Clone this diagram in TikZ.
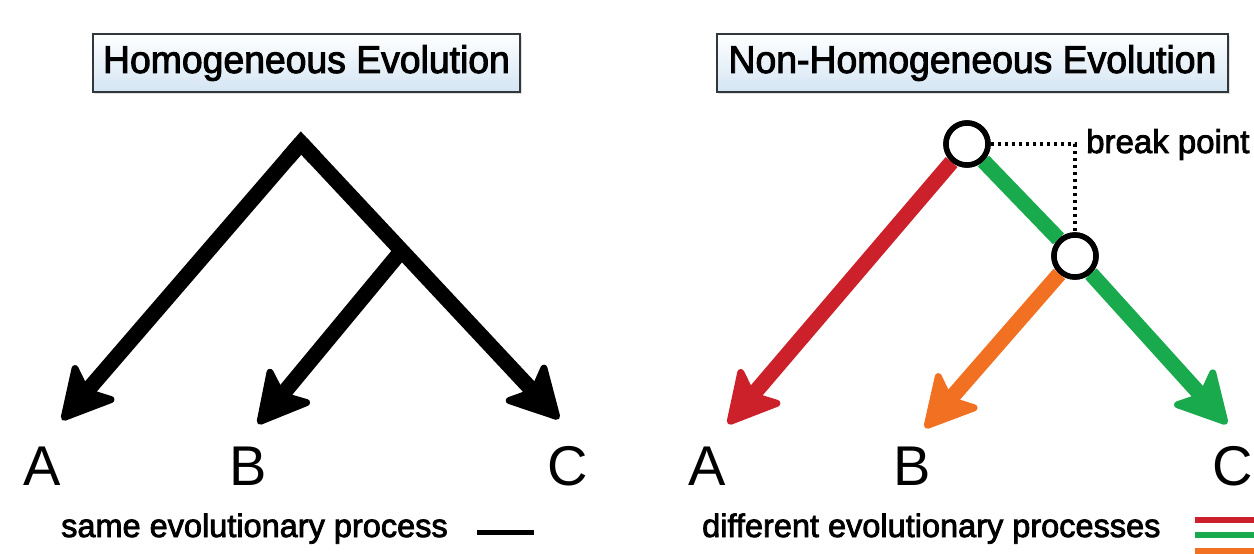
\documentclass[tikz,border=0pt]{standalone}
\usepackage{fontspec}
\setmainfont{Liberation Sans}
\newfontfamily\titlefont[FakeStretch=0.97,FakeBold=2.5]{Liberation Sans}
\newfontfamily\labelfont[FakeBold=2.5]{Liberation Sans}
\usetikzlibrary{arrows.meta,calc,shadows,shadings}
\definecolor{cred}{RGB}{204,32,42}
\definecolor{cgreen}{RGB}{25,170,78}
\definecolor{corange}{RGB}{242,112,34}
\definecolor{boxblue}{RGB}{212,229,243}
\definecolor{boxline}{RGB}{50,55,60}
\begin{document}
\begin{tikzpicture}[x=1pt,y=-1pt,
  branch/.style={line width=15.5pt,
    -{Stealth[length=58pt,width=62pt,inset=13pt,round,line width=7pt]}},
  trunk/.style={line width=15.5pt},
  titlebox/.style={rectangle, draw=boxline, line width=1.5pt, top color=white,
    bottom color=boxblue, inner sep=0pt, minimum height=58pt,
    drop shadow={shadow xshift=2pt, shadow yshift=-2pt, opacity=0.25}},
  titletext/.style={font=\titlefont\fontsize{38.5}{42}\selectfont},
  leaf/.style={anchor=base, inner sep=0pt, font=\fontsize{56}{60}\selectfont},
  legendtext/.style={anchor=base west, inner sep=0pt, font=\labelfont\fontsize{32.5}{36}\selectfont},
  bpoint/.style={circle, draw=black, line width=5.5pt, fill=white, minimum size=42pt, inner sep=0pt},
  swatch/.style={line width=6pt}
]
\useasboundingbox (0,0) rectangle (1254,554);

% titles
\node[titlebox, minimum width=427pt, titletext] (t1) at (306.5,63) {Homogeneous Evolution};
\node[titlebox, minimum width=511pt, titletext] (t2) at (972.5,63) {Non-Homogeneous Evolution};

% left tree
\coordinate (apex) at (301,143);
\coordinate (tA) at (62,420);
\coordinate (tC) at (559,419);
\coordinate (jB) at ($(apex)!0.39!(tC)$);
\coordinate (tB) at (258,424);
\draw[branch] (apex) -- (tA);
\draw[branch] (apex) -- (tC);
\draw[branch] (jB) -- (tB);
\draw[trunk, line join=miter] ($(apex)!20pt!(tA)$) -- (apex) -- ($(apex)!20pt!(tC)$);

\node[leaf] (lA) at (42,485) {A};
\node[leaf] (lB) at (248,485) {B};
\node[leaf] (lC) at (568,485) {C};

% right tree
\node[bpoint] (c1) at (967,144) {};
\node[bpoint] (c2) at (1075,256) {};
\coordinate (rA) at (728,424);
\coordinate (rB) at (925,428);
\coordinate (rC) at (1227,424);
\draw[branch, cred] (c1) -- (rA);
\draw[trunk, cgreen] (c1) -- (c2);
\draw[branch, cgreen] (c2) -- (rC);
\draw[branch, corange] (c2) -- (rB);
\node[bpoint] at (c1) {};
\node[bpoint] at (c2) {};
\draw[line width=3.5pt, dash pattern=on 3.5pt off 3.5pt] (c1.east) -- (c1.east -| c2.north) -- (c2.north);
\node[anchor=base west, inner sep=0pt, font=\labelfont\fontsize{33}{36}\selectfont] (bpl) at (1086,153) {break point};

\node[leaf] (rlA) at (707,485) {A};
\node[leaf] (rlB) at (912,485) {B};
\node[leaf] (rlC) at (1233,485) {C};

% legends
\node[legendtext] (lg1) at (61,537) {same evolutionary process};
\coordinate (s1a) at (477,532);
\coordinate (s1b) at (534,532);
\draw[line width=5pt] (s1a) -- (s1b);

\node[legendtext] (lg2) at (702,537) {different evolutionary processes};
\coordinate (s2a) at (1195,520);
\coordinate (s2b) at (1254,520);
\coordinate (s3a) at (1195,535);
\coordinate (s3b) at (1254,535);
\coordinate (s4a) at (1195,551);
\coordinate (s4b) at (1254,551);
\draw[swatch, cred] (s2a) -- (s2b);
\draw[swatch, cgreen] (s3a) -- (s3b);
\draw[swatch, corange] (s4a) -- (s4b);
\end{tikzpicture}
\end{document}
